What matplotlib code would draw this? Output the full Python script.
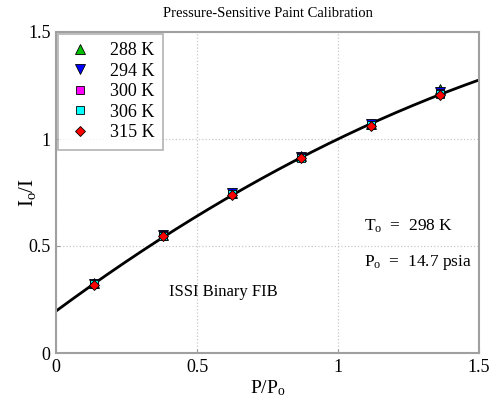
import numpy as np
import matplotlib
matplotlib.use("Agg")
import matplotlib.pyplot as plt

plt.rcParams['font.family'] = ['Liberation Serif', 'DejaVu Serif']
plt.rcParams['mathtext.fontset'] = 'custom'
plt.rcParams['mathtext.rm'] = 'Liberation Serif'
plt.rcParams['mathtext.it'] = 'Liberation Serif:italic'

# Data
pressure_ratio = [0.135, 0.38, 0.625, 0.87, 1.115, 1.36]
series_labels = ['288 K', '294 K', '300 K', '306 K', '315 K']
int_288 = [0.325, 0.552, 0.750, 0.920, 1.072, 1.234]
int_294 = [0.323, 0.551, 0.748, 0.918, 1.070, 1.220]
int_300 = [0.322, 0.550, 0.745, 0.915, 1.066, 1.215]
int_306 = [0.322, 0.549, 0.744, 0.913, 1.064, 1.212]
int_315 = [0.320, 0.548, 0.740, 0.910, 1.060, 1.205]
# quadratic calibration fit coefficients (a0 + a1 p + a2 p^2)
fit_coeffs = [0.196, 0.972, -0.168]

colors = ['#00c000', '#0000ff', '#ff00ff', '#00ffff', '#ff0000']
markers = ['^', 'v', 's', 's', 'D']
sizes = [6.5, 6.5, 5.5, 5.5, 5]

fig = plt.figure(figsize=(4.96, 4.0), dpi=100)
ax = fig.add_axes([0.113, 0.1175, 0.853, 0.8025])

p = np.linspace(0, 1.5, 200)
fit = fit_coeffs[0] + fit_coeffs[1] * p + fit_coeffs[2] * p ** 2
ax.plot(p, fit, color='black', lw=2.0, zorder=2)

for vals, lab, c, m, s in zip([int_288, int_294, int_300, int_306, int_315],
                              series_labels, colors, markers, sizes):
    ax.plot(pressure_ratio, vals, linestyle='none', marker=m, markersize=s,
            markerfacecolor=c, markeredgecolor='black', markeredgewidth=0.6,
            label=lab, zorder=3)

ax.set_xlim(0, 1.5)
ax.set_ylim(0, 1.5)
ax.set_xticks([0, 0.5, 1, 1.5])
ax.set_yticks([0, 0.5, 1, 1.5])
ax.set_xticklabels(['0', '0.5', '1', '1.5'])
ax.set_yticklabels(['0', '0.5', '1', '1.5'])
ax.tick_params(direction='in', length=3, color='#999999', labelsize=13, pad=4)
for sp in ax.spines.values():
    sp.set_color('#a0a0a0')
    sp.set_linewidth(1.5)
ax.grid(True, linestyle=':', color='#c8c8c8', linewidth=0.9)

ax.set_xlabel(r'P/P$_{\rm o}$', fontsize=14, labelpad=2)
ax.set_ylabel(r'I$_{\rm o}$/I', fontsize=15, labelpad=-7)
ax.set_title('Pressure-Sensitive Paint Calibration', fontsize=10.5, pad=11)

ax.text(1.093, 0.593, r'T$_{\rm o}$  =  298 K', fontsize=12.5, va='center', ha='left')
ax.text(1.093, 0.425, r'P$_{\rm o}$  =  14.7 psia', fontsize=12.5, va='center', ha='left')
ax.text(0.40, 0.285, 'ISSI Binary FIB', fontsize=12, va='center', ha='left')

leg = ax.legend(loc='upper left', fontsize=13, frameon=True, fancybox=False,
                borderaxespad=0.1, handlelength=1.6, handletextpad=0.85,
                labelspacing=0.2, borderpad=0.45)
leg.get_frame().set_edgecolor('#a0a0a0')
leg.get_frame().set_linewidth(1.2)

fig.savefig('out.png', dpi=100)
